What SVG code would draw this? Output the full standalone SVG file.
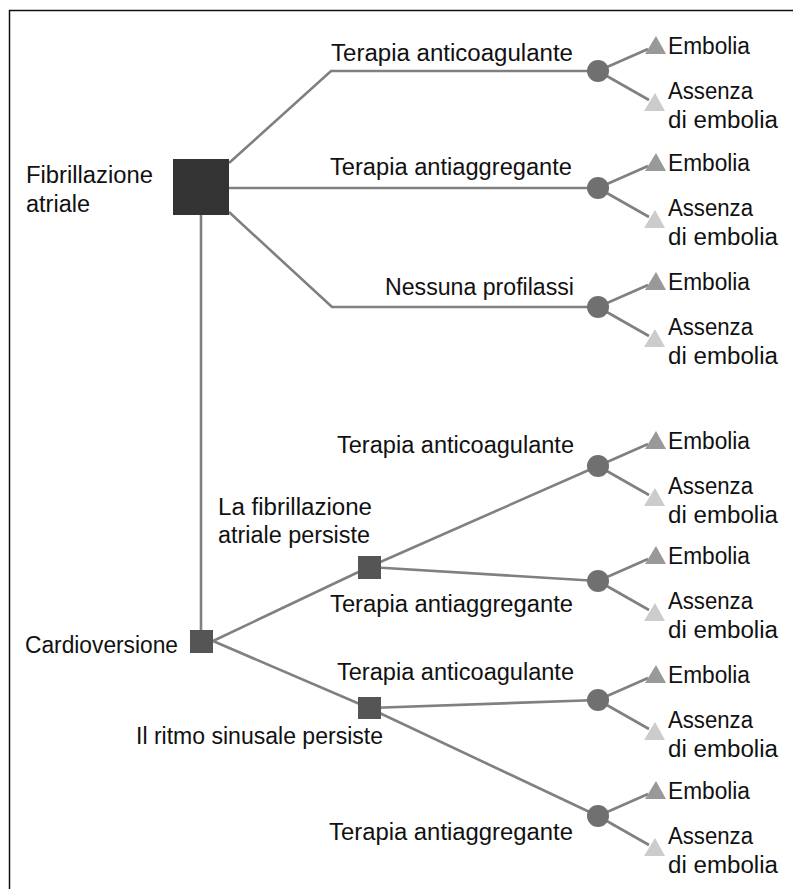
<svg xmlns="http://www.w3.org/2000/svg" width="793" height="889" viewBox="0 0 793 889">
<style>
text{font-family:"Liberation Sans",Arial,sans-serif;font-size:23px;fill:#111}
.ln{stroke:#808080;stroke-width:2.6;fill:none}
.dec{fill:#555}
.big{fill:#333}
.ch{fill:#707070}
.up{fill:#999}
.dn{fill:#ccc}
</style>
<defs>
<g id="out">
<path class="ln" d="M0,0 L50,-22 M0,0 L51,29"/>
<polygon class="up" points="58,-35 47,-17 68,-17"/>
<polygon class="dn" points="57,22 46,40 67,40"/>
<circle class="ch" cx="0" cy="0" r="11"/>
<text x="70" y="-17" textLength="82" lengthAdjust="spacingAndGlyphs">Embolia</text>
<text x="70" y="28" textLength="85" lengthAdjust="spacingAndGlyphs">Assenza</text>
<text x="70" y="57" textLength="110" lengthAdjust="spacingAndGlyphs">di embolia</text>
</g>
</defs>
<rect x="9.5" y="10.5" width="820" height="920" fill="none" stroke="#111" stroke-width="1.5"/>
<g id="connectors">
<path class="ln" d="M229,163 L331,71 L598,71"/>
<path class="ln" d="M229,188 L598,188"/>
<path class="ln" d="M229,212 L332,307 L598,307"/>
<path class="ln" d="M201,215 L201,630"/>
<path class="ln" d="M213,641 L369,567"/>
<path class="ln" d="M213,641 L369,708"/>
<path class="ln" d="M369,567 L598,466"/>
<path class="ln" d="M369,567 L598,581"/>
<path class="ln" d="M369,708 L598,700"/>
<path class="ln" d="M369,708 L598,816"/>
</g>
<g id="labels">
<text x="331" y="61" textLength="242" lengthAdjust="spacingAndGlyphs">Terapia anticoagulante</text>
<text x="330" y="175" textLength="242" lengthAdjust="spacingAndGlyphs">Terapia antiaggregante</text>
<text x="385" y="295" textLength="189" lengthAdjust="spacingAndGlyphs">Nessuna profilassi</text>
<text x="337" y="453" textLength="237" lengthAdjust="spacingAndGlyphs">Terapia anticoagulante</text>
<text x="330" y="612" textLength="243" lengthAdjust="spacingAndGlyphs">Terapia antiaggregante</text>
<text x="337" y="680" textLength="237" lengthAdjust="spacingAndGlyphs">Terapia anticoagulante</text>
<text x="329" y="840" textLength="244" lengthAdjust="spacingAndGlyphs">Terapia antiaggregante</text>
</g>
<g id="n-fibrillazione">
<rect class="big" x="173" y="159" width="56" height="56"/>
<text x="26" y="183" textLength="127" lengthAdjust="spacingAndGlyphs">Fibrillazione</text>
<text x="26" y="212" textLength="64" lengthAdjust="spacingAndGlyphs">atriale</text>
</g>
<g id="n-cardioversione">
<rect class="dec" x="190" y="630" width="23" height="23"/>
<text x="25" y="653" textLength="153" lengthAdjust="spacingAndGlyphs">Cardioversione</text>
</g>
<g id="n-fa-persiste">
<rect class="dec" x="358" y="556" width="23" height="23"/>
<text x="218" y="515" textLength="154" lengthAdjust="spacingAndGlyphs">La fibrillazione</text>
<text x="218" y="543" textLength="152" lengthAdjust="spacingAndGlyphs">atriale persiste</text>
</g>
<g id="n-rs-persiste">
<rect class="dec" x="358" y="697" width="23" height="22"/>
<text x="136" y="744" textLength="247" lengthAdjust="spacingAndGlyphs">Il ritmo sinusale persiste</text>
</g>
<g id="c1"><use href="#out" x="598" y="71"/></g>
<g id="c2"><use href="#out" x="598" y="188"/></g>
<g id="c3"><use href="#out" x="598" y="307"/></g>
<g id="c4"><use href="#out" x="598" y="466"/></g>
<g id="c5"><use href="#out" x="598" y="581"/></g>
<g id="c6"><use href="#out" x="598" y="700"/></g>
<g id="c7"><use href="#out" x="598" y="816"/></g>
</svg>
